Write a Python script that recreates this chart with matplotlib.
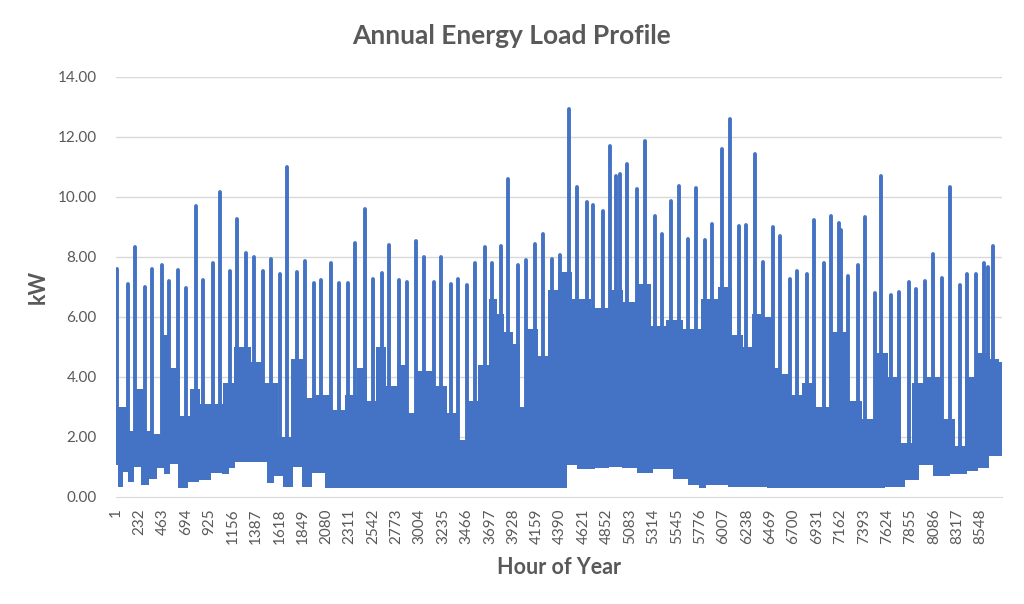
import numpy as np
import matplotlib.pyplot as plt

plt.rcParams['font.family'] = ['Lato', 'DejaVu Sans']

BLUE = "#4472C4"
GREY = "#595959"

# Values (kW).
# dense daily band: upper edge of the solid part
body_hours = [1, 30, 73, 172, 231, 337, 403, 486, 585, 683, 782, 881, 997, 1129, 1211,
              1274, 1389, 1537, 1670, 1801, 1917, 2048, 2197, 2328, 2444, 2523, 2622,
              2721, 2837, 2936, 3001, 3084, 3199, 3347, 3436, 3529, 3628, 3743, 3789,
              3888, 3970, 4010, 4103, 4235, 4317, 4416, 4598, 4795, 4959, 5072, 5220,
              5369, 5517, 5698, 5864, 6045, 6144, 6259, 6321, 6437, 6536, 6618, 6717,
              6849, 6997, 7146, 7311, 7443, 7542, 7568, 7700, 7816, 7931, 8095, 8244,
              8342, 8441, 8573, 8705, 8760]
body_top = [4.0, 3.0, 3.0, 2.2, 3.6, 2.2, 2.1, 5.4, 4.3, 2.7, 3.6, 3.1, 3.1, 3.8, 5.0,
            5.0, 4.5, 3.8, 2.0, 4.6, 3.3, 3.4, 2.9, 3.4, 4.3, 3.2, 5.0,
            3.7, 4.4, 2.8, 4.2, 4.2, 3.7, 2.8, 1.9, 3.2, 4.4, 6.6, 6.1,
            5.5, 5.1, 3.0, 5.6, 4.7, 6.9, 7.5, 6.6, 6.3, 6.9, 6.5, 7.1,
            5.7, 5.9, 5.6, 6.6, 7.0, 5.4, 5.0, 6.1, 6.0, 4.3, 4.1, 3.4,
            3.8, 3.0, 5.5, 3.2, 2.6, 4.8, 4.8, 4.0, 1.8, 3.8, 4.0, 2.6,
            1.7, 4.0, 4.8, 4.6, 4.5]

# night-time minimum
low_hours = [1, 38, 93, 152, 212, 285, 367, 443, 508, 565, 654, 763, 878, 1010, 1092,
             1142, 1208, 1406, 1472, 1521, 1603, 1702, 1794, 1883, 1999, 2131, 4440,
             4472, 4637, 4835, 4917, 5098, 5197, 5428, 5593, 5725, 5807, 5857, 6252,
             6615, 7472, 7736, 7868, 8016, 8132, 8362, 8461, 8593, 8675, 8760]
low_kw = [1.07, 0.34, 0.84, 0.5, 1.0, 0.4, 0.6, 0.95, 0.75, 1.1, 0.3, 0.5, 0.55, 0.8, 0.75,
          0.95, 1.18, 1.18, 1.15, 0.45, 0.7, 0.34, 1.0, 0.34, 0.8, 0.3, 0.3,
          1.07, 0.93, 0.95, 1.0, 0.95, 0.8, 0.93, 0.6, 0.4, 0.3, 0.4, 0.34,
          0.3, 0.3, 0.34, 0.55, 1.07, 0.7, 0.75, 0.85, 0.95, 1.35, 1.35]

# daily peaks that stand out of the band
spike_hours = [14, 123, 189, 288, 354, 453, 525, 617, 693, 789, 864, 957, 1030, 1129, 1200,
               1290, 1363, 1455, 1531, 1626, 1695, 1794, 1867, 1960, 2032, 2131, 2204, 2296,
               2368, 2467, 2540, 2632, 2704, 2803, 2876, 2968, 3045, 3140, 3216, 3308, 3381,
               3473, 3545, 3644, 3717, 3806, 3881, 3977, 4053, 4145, 4218, 4311, 4386, 4482,
               4554, 4653, 4719, 4818, 4887, 4944, 4986, 5055, 5154, 5226, 5325, 5394, 5490,
               5566, 5658, 5731, 5824, 5896, 5995, 6067, 6160, 6233, 6321, 6397, 6496, 6569,
               6661, 6734, 6833, 6905, 6997, 7074, 7146, 7170, 7240, 7333, 7403, 7502, 7560,
               7667, 7743, 7838, 7907, 8003, 8079, 8171, 8247, 8342, 8415, 8507, 8580, 8624,
               8672]
spike_kw = [7.61, 7.11, 8.33, 7.0, 7.59, 7.74, 7.19, 7.57, 6.98, 9.69, 7.24, 7.79, 10.16, 7.53, 9.28,
            8.13, 8.0, 7.53, 7.93, 7.42, 11.0, 7.5, 7.86, 7.13, 7.22, 7.81, 7.13, 7.13,
            8.47, 9.6, 7.26, 7.46, 8.39, 7.24, 7.16, 8.53, 8.0, 7.16, 8.0, 7.11, 7.27,
            7.08, 7.8, 8.33, 7.79, 8.37, 10.61, 7.73, 7.89, 8.44, 8.78, 7.93, 8.07, 12.94,
            10.33, 9.83, 9.73, 9.52, 11.69, 10.69, 10.76, 11.11, 10.27, 11.86, 9.36, 8.78, 9.86,
            10.36, 8.6, 10.31, 8.58, 9.09, 11.61, 12.6, 9.04, 9.07, 11.42, 7.82, 9.0, 8.71,
            7.26, 7.53, 7.44, 9.22, 7.8, 9.38, 9.13, 8.89, 7.36, 7.72, 9.33, 6.81, 10.69,
            6.72, 6.83, 7.16, 6.94, 7.2, 8.11, 7.31, 10.33, 7.08, 7.44, 7.44, 7.81, 7.67,
            8.37]

tick_hours = list(range(1, 8761, 231))

fig = plt.figure(figsize=(10.24, 6.04), dpi=100)
ax = fig.add_axes([0.1133, 0.1772, 0.8652, 0.6954])

# band: blue up to the daily level, night minimum cut out in white
ax.fill_between(body_hours, 0, body_top, step="mid", color=BLUE, lw=0, zorder=2)
ax.fill_between(low_hours, 0, low_kw, step="mid", color="white", lw=0, zorder=2.1)

sp = ax.vlines(spike_hours, 1.6, spike_kw, color=BLUE, lw=2.8, zorder=3)
sp.set_capstyle("round")

ax.set_xlim(0.5, 8760.5)
ax.set_ylim(0, 14)
ax.set_yticks(np.arange(0, 14.01, 2))
ax.set_yticklabels([f"{v:.2f}" for v in np.arange(0, 14.01, 2)])
ax.set_xticks(tick_hours)
ax.set_xticklabels([str(h) for h in tick_hours], rotation=90)
ax.tick_params(axis="both", length=0, labelsize=11, labelcolor=GREY)
ax.tick_params(axis="y", pad=14)
ax.tick_params(axis="x", pad=8)

ax.grid(axis="y", color="#d9d9d9", lw=1)
ax.set_axisbelow(True)
for s in ["top", "right", "left"]:
    ax.spines[s].set_visible(False)
ax.spines["bottom"].set_color("#d9d9d9")
ax.spines["bottom"].set_zorder(2.5)

fig.text(0.5, 0.94, "Annual Energy Load Profile", fontsize=19, fontweight="bold",
         color=GREY, ha="center", va="center")
ax.set_xlabel("Hour of Year", fontsize=15.5, fontweight="bold", color=GREY, labelpad=10)
ax.set_ylabel("kW", fontsize=15.5, fontweight="bold", color=GREY, labelpad=6)

fig.savefig("out.png", dpi=100)
